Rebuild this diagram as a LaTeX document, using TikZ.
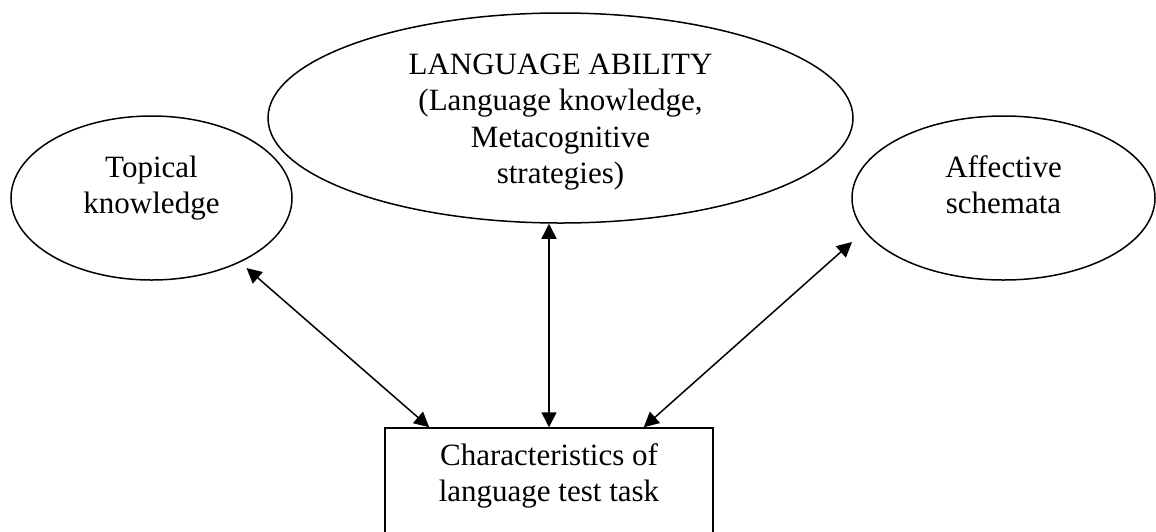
\documentclass[tikz,border=0pt]{standalone}
\usepackage{fontspec}
\setmainfont{Liberation Serif}
\usetikzlibrary{arrows.meta,shapes,positioning}

\begin{document}
\begin{tikzpicture}[x=0.5pt,y=-0.5pt]
\tikzstyle{main}=[ellipse, draw=black, line width=0.75pt, inner sep=0pt]
\tikzstyle{rect}=[main, rectangle]
\tikzstyle{txt}=[align=center, inner sep=0pt, font=\fontsize{15.5pt}{18.2pt}\selectfont]
\tikzstyle{connect}=[{Triangle[length=7.5pt,width=7.5pt]}-{Triangle[length=7.5pt,width=7.5pt]}, line width=0.75pt]

  \useasboundingbox (0,0) rectangle (1156,531);

  \node[main, minimum width=292.5pt, minimum height=105pt] (ability)   at (560.5,118) {};
  \node[main, minimum width=140.5pt, minimum height=82pt]  (topical)   at (151.5,198) {};
  \node[main, minimum width=151.5pt, minimum height=82pt]  (affective) at (1003.5,198) {};
  \node[rect, minimum width=164pt, minimum height=60pt]    (task)      at (549,488) {};

  \node[txt] (abilitytext)   at ([yshift=-2pt]ability.center)  {LANGUAGE ABILITY\\(Language knowledge,\\Metacognitive\\strategies)};
  \node[txt] (topicaltext)   at ([yshift=5pt]topical.center)   {Topical\\knowledge};
  \node[txt] (affectivetext) at ([yshift=6.6pt]affective.center) {Affective\\schemata};
  \node[txt] (tasktext)      [below=7.9pt of task.north]       {Characteristics of\\language test task};

  \path ([shift={(95,70)}]topical.center) edge [connect] ([xshift=22.5pt]task.north west);
  \path (task.north |- ability.south) edge [connect] (task.north);
  \path ([shift={(-151.5,44)}]affective.center) edge [connect] ([xshift=-35pt]task.north east);

\end{tikzpicture}
\end{document}
